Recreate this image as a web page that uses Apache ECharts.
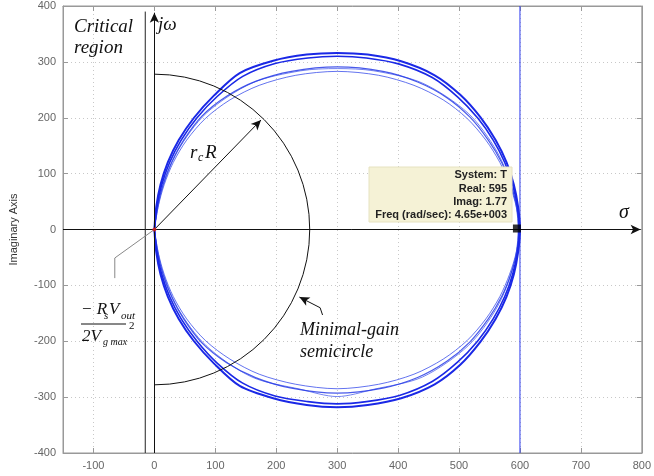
<!DOCTYPE html>
<html>
<head>
<meta charset="utf-8">
<script src="https://cdn.jsdelivr.net/npm/echarts@6/dist/echarts.min.js"></script>
<style>
  html, body { margin: 0; padding: 0; background: #fff; }
  #chart { width: 654px; height: 476px; }
</style>
</head>
<body>
<div id="chart"></div>
<script>
  // axis ticks
  const X_TICKS = [-100, 0, 100, 200, 300, 400, 500, 600, 700, 800]
  const Y_TICKS = [-400, -300, -200, -100, 0, 100, 200, 300, 400]

  // nyquist traces (real, imag)
  const OUTER_A = [[0, 0], [3, 40], [10, 80], [22, 120], [40, 160], [65, 200], [98, 240], [140, 280], [195, 302], [250, 313], [300, 316], [350, 313], [405, 301], [460, 276], [502, 241], [535, 201], [560, 160], [578, 120], [590, 80], [597, 40], [600, 0],
    [597, -40], [590, -80], [578, -120], [560, -160], [535, -201], [502, -242], [460, -277], [405, -302], [350, -314], [300, -318], [250, -314], [195, -302], [140, -280], [98, -240], [65, -200], [40, -160], [22, -120], [10, -80], [3, -40], [0, 0]]
  const OUTER_B = [[0, 0], [4, 40], [12, 80], [25, 120], [44, 160], [70, 200], [103, 238], [145, 274], [198, 297], [252, 307], [300, 310], [348, 307], [402, 296], [456, 272], [498, 237], [531, 199], [556, 160], [575, 120], [588, 80], [596, 40], [599, 0],
    [596, -40], [588, -80], [575, -120], [556, -160], [531, -199], [498, -237], [456, -272], [402, -297], [348, -308], [300, -312], [252, -308], [198, -298], [145, -275], [103, -239], [70, -200], [44, -160], [25, -120], [12, -80], [4, -40], [0, 0]]
  const INNER_A = [[0, 0], [5, 40], [14, 80], [28, 120], [48, 160], [78, 203], [118, 238], [166, 265], [225, 283], [300, 291], [375, 283], [432, 264], [480, 236], [518, 201], [548, 160], [570, 120], [585, 80], [595, 40], [598, 0],
    [595, -40], [585, -80], [570, -120], [548, -160], [518, -201], [480, -236], [432, -265], [375, -284], [300, -293], [225, -284], [166, -265], [118, -238], [78, -203], [48, -160], [28, -120], [14, -80], [5, -40], [0, 0]]
  const INNER_B = [[0, 0], [6, 40], [16, 80], [31, 120], [53, 160], [84, 199], [124, 232], [172, 258], [232, 276], [300, 283], [368, 276], [426, 258], [474, 232], [513, 199], [544, 160], [567, 120], [583, 80], [594, 40], [597, 0],
    [594, -40], [583, -80], [567, -120], [544, -160], [513, -199], [474, -232], [426, -259], [368, -277], [300, -285], [232, -277], [172, -259], [124, -232], [84, -199], [53, -160], [31, -120], [16, -80], [6, -40], [0, 0]]
  const INNER_POLY = [[0, 0], [12, 70], [38, 140], [85, 208], [160, 262], [240, 284], [300, 288], [360, 284], [440, 262], [515, 208], [562, 140], [588, 70], [598, 0],
    [588, -70], [562, -140], [515, -208], [440, -264], [360, -286], [300, -299], [240, -286], [160, -264], [85, -208], [38, -140], [12, -70], [0, 0]]

  // annotation geometry (data units)
  const SEMI_R = 278
  const RCR_TIP = [175, 196]
  const CRIT_X = -15
  const MARKER = [595, 1.77]
  const LEADER = [[0, 0], [-65, -51], [-65, -87]]
  const MG_POINTER = [[276, -153], [272, -140]]
  const MG_TIP = [238, -121]

  const BLUE = '#1a28e6'
  const SERIF = '"Liberation Serif", "DejaVu Serif", serif'
  const SANS = '"Liberation Sans", Arial, sans-serif'

  function trace(data, width, color, z) {
    return {
      type: 'line', data: data, symbol: 'none', smooth: 0.3, z: z || 3,
      lineStyle: { color: color, width: width }, silent: true
    }
  }

  function txt(x, y, text, size, opt) {
    opt = opt || {}
    return {
      type: 'text', x: x, y: y, z: 20,
      style: {
        text: text, fontSize: size, fontFamily: opt.family || SERIF,
        fontStyle: opt.italic === false ? 'normal' : 'italic',
        fontWeight: opt.weight || 'normal',
        fill: opt.color || '#111', align: opt.align || 'left', verticalAlign: 'middle'
      }
    }
  }

  const chart = echarts.init(document.getElementById('chart'))
  const option = {
    animation: false,
    grid: { left: 62, right: 10, top: 6, bottom: 23, show: true, borderColor: '#999', borderWidth: 1 },
    xAxis: [{
      type: 'value', min: -150, max: 800,
      axisLine: { show: true, onZero: false, lineStyle: { color: '#999' } },
      axisTick: { show: true, inside: true, length: 5, customValues: X_TICKS, lineStyle: { color: '#999' } },
      axisLabel: { customValues: X_TICKS, color: '#666', fontSize: 11, fontFamily: SANS, margin: 7 },
      splitLine: { show: true, lineStyle: { color: '#c8c8c8', type: [1, 3] } }
    }, {
      type: 'value', min: -150, max: 800, position: 'top',
      axisLine: { show: true, onZero: false, lineStyle: { color: '#999' } },
      axisTick: { show: true, inside: true, length: 5, customValues: X_TICKS, lineStyle: { color: '#999' } },
      axisLabel: { show: false }, splitLine: { show: false }
    }],
    yAxis: [{
      type: 'value', min: -400, max: 400, interval: 100,
      name: 'Imaginary Axis', nameLocation: 'middle', nameRotate: 90, nameGap: 44,
      nameTextStyle: { color: '#333', fontSize: 11, fontFamily: SANS },
      axisLine: { show: true, onZero: false, lineStyle: { color: '#999' } },
      axisTick: { show: true, inside: true, length: 5, lineStyle: { color: '#999' } },
      axisLabel: { color: '#666', fontSize: 11, fontFamily: SANS, margin: 7 },
      splitLine: { show: true, lineStyle: { color: '#c8c8c8', type: [1, 3] } }
    }, {
      type: 'value', min: -400, max: 400, interval: 100, position: 'right',
      axisLine: { show: true, onZero: false, lineStyle: { color: '#999' } },
      axisTick: { show: true, inside: true, length: 5, lineStyle: { color: '#999' } },
      axisLabel: { show: false }, splitLine: { show: false }
    }],
    series: [
      // blue vertical line at 600
      { type: 'line', data: [[600, -400], [600, 400]], symbol: 'none', lineStyle: { color: '#2d3cf0', width: 1 }, z: 2 },
      trace(INNER_POLY, 1, 'rgba(70,90,235,0.75)'),
      trace(INNER_B, 1, 'rgba(60,80,235,0.8)'),
      trace(INNER_A, 1.2, 'rgba(40,60,230,0.85)'),
      trace(OUTER_B, 1.6, BLUE),
      trace(OUTER_A, 2, BLUE),
      // critical region boundary
      { type: 'line', data: [[CRIT_X, -400], [CRIT_X, 390]], symbol: 'none', lineStyle: { color: '#222', width: 1 }, z: 5 },
      // j-omega and sigma axes with arrow heads
      {
        type: 'line', data: [], z: 6,
        markLine: {
          silent: true, symbol: ['none', 'arrow'], symbolSize: [7, 10], label: { show: false },
          lineStyle: { color: '#111', width: 1, type: 'solid' },
          data: [
            [{ coord: [0, -400] }, { coord: [0, 388] }],
            [{ coord: [-150, 0] }, { coord: [798, 0] }],
            [{ coord: [0, 0] }, { coord: RCR_TIP }],
            [{ coord: MG_POINTER[1] }, { coord: MG_TIP }]
          ]
        }
      },
      // minimal-gain semicircle
      {
        type: 'custom', data: [[0, 0]], z: 6, silent: true,
        renderItem: function (params, api) {
          const c = api.coord([0, 0])
          const top = api.coord([0, SEMI_R])
          return {
            type: 'arc',
            shape: { cx: c[0], cy: c[1], r: c[1] - top[1], startAngle: -Math.PI / 2, endAngle: Math.PI / 2, clockwise: true },
            style: { stroke: '#111', fill: null, lineWidth: 1 }
          }
        }
      },
      // pointer to the semicircle label
      { type: 'line', data: MG_POINTER, symbol: 'none', lineStyle: { color: '#111', width: 1 }, z: 6 },
      // leader line to the formula
      { type: 'line', data: LEADER, symbol: 'none', lineStyle: { color: '#888', width: 1 }, z: 6 },
      // origin dot and data marker
      { type: 'scatter', data: [[0, 0]], symbolSize: 4, itemStyle: { color: '#e02020' }, z: 7 },
      { type: 'scatter', data: [MARKER], symbol: 'rect', symbolSize: 8, itemStyle: { color: '#000' }, z: 7 }
    ],
    graphic: [
      // data tip box
      { type: 'rect', shape: { x: 369, y: 167, width: 143, height: 55 }, style: { fill: '#f5f2d6', stroke: '#e6e2c0', lineWidth: 1 }, z: 15 },
      txt(507, 175, 'System: T', 11, { family: SANS, italic: false, weight: 'bold', color: '#222', align: 'right' }),
      txt(507, 189, 'Real: 595', 11, { family: SANS, italic: false, weight: 'bold', color: '#222', align: 'right' }),
      txt(507, 202, 'Imag: 1.77', 11, { family: SANS, italic: false, weight: 'bold', color: '#222', align: 'right' }),
      txt(507, 215, 'Freq (rad/sec): 4.65e+003', 11, { family: SANS, italic: false, weight: 'bold', color: '#222', align: 'right' }),
      // labels
      txt(74, 27, 'Critical', 19),
      txt(74, 48, 'region', 19),
      txt(158, 25, 'jω', 19),
      txt(619, 213, 'σ', 20),
      txt(190, 153, 'r', 19),
      txt(198, 158, 'c', 12),
      txt(205, 153, 'R', 19),
      txt(300, 330, 'Minimal-gain', 18),
      txt(300, 352, 'semicircle', 18),
      // formula -RsVout / 2Vgmax^2
      txt(81, 310, '− R', 17),
      txt(104, 316, 's', 11),
      txt(109, 310, 'V', 17),
      txt(121, 316, 'out', 11),
      { type: 'line', shape: { x1: 81, y1: 324, x2: 126, y2: 324 }, style: { stroke: '#111', lineWidth: 1 }, z: 20 },
      txt(82, 337, '2V', 17),
      txt(103, 342, 'g max', 10),
      txt(129, 326, '2', 11, { italic: false })
    ]
  }
  chart.setOption(option)
</script>
</body>
</html>
